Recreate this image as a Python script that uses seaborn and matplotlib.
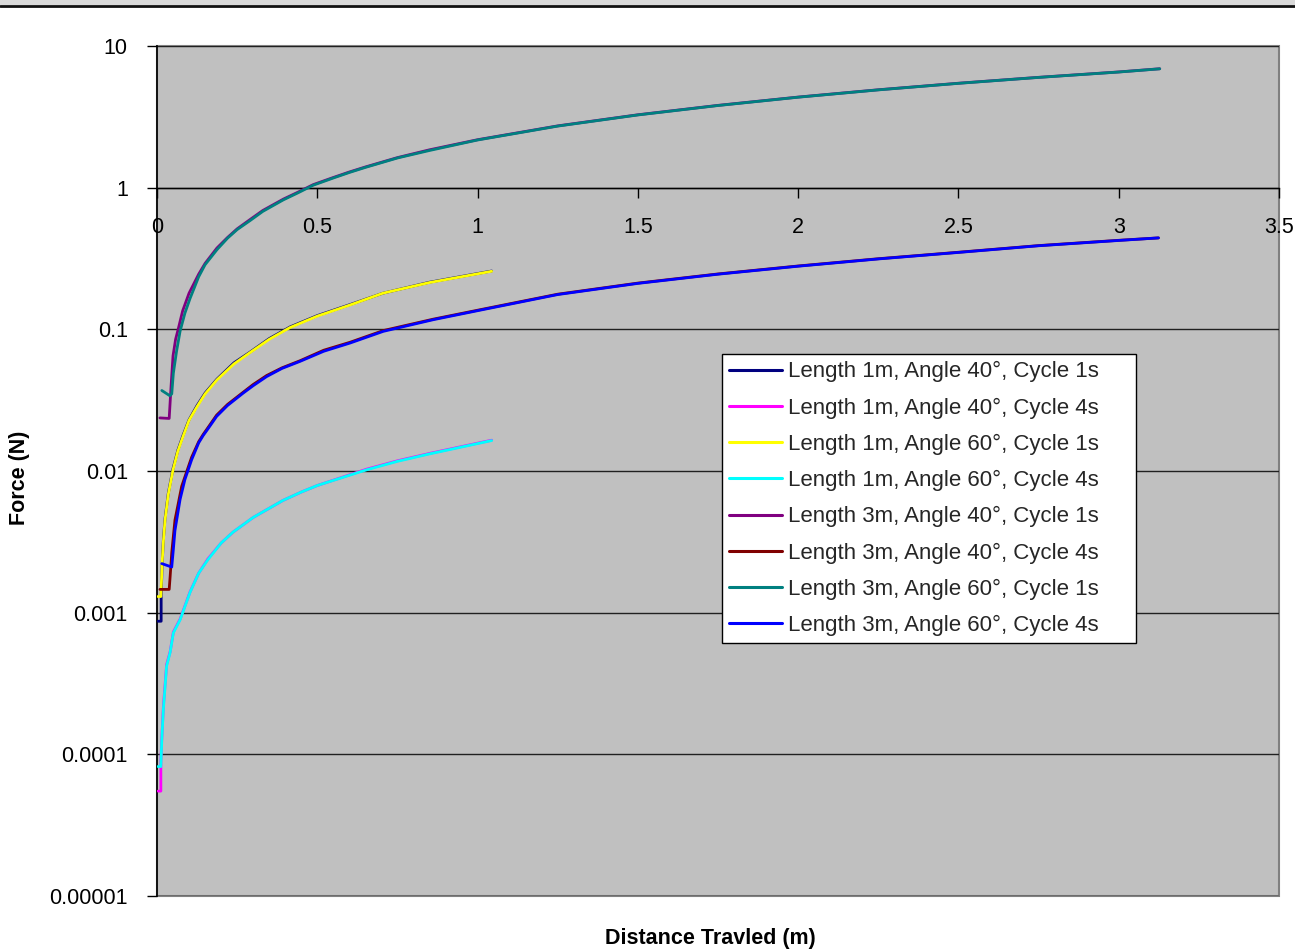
import matplotlib
matplotlib.use("Agg")
import matplotlib.pyplot as plt
from matplotlib.lines import Line2D
from matplotlib.patches import Rectangle
from matplotlib.ticker import NullLocator
import seaborn as sns
import pandas as pd

# ---------------- data ----------------
labels = [
    "Length 1m, Angle 40°, Cycle 1s",
    "Length 1m, Angle 40°, Cycle 4s",
    "Length 1m, Angle 60°, Cycle 1s",
    "Length 1m, Angle 60°, Cycle 4s",
    "Length 3m, Angle 40°, Cycle 1s",
    "Length 3m, Angle 40°, Cycle 4s",
    "Length 3m, Angle 60°, Cycle 1s",
    "Length 3m, Angle 60°, Cycle 4s",
]
colors = ["#000080", "#FF00FF", "#FFFF00", "#00FFFF",
          "#800080", "#800000", "#008080", "#0000FF"]

x_1m_40_1s = [0.003, 0.013, 0.013, 0.016, 0.02, 0.025, 0.035, 0.05, 0.065, 0.081, 0.1, 0.125, 0.15, 0.187, 0.24, 0.29, 0.35, 0.415, 0.5, 0.6, 0.705, 0.85, 1.044]
y_1m_40_1s = [0.00087, 0.00087, 0.0013, 0.0022, 0.0033, 0.0046, 0.0069, 0.0104, 0.0140, 0.0178, 0.0230, 0.029, 0.0355, 0.0445, 0.058, 0.069, 0.086, 0.104, 0.125, 0.149, 0.18, 0.215, 0.258]

x_1m_40_4s = [0.003, 0.012, 0.012, 0.015, 0.02, 0.03, 0.041, 0.051, 0.072, 0.103, 0.13, 0.159, 0.2, 0.237, 0.3, 0.393, 0.45, 0.5, 0.654, 0.75, 0.85, 1.044]
y_1m_40_4s = [0.000055, 0.000055, 0.00009, 0.00013, 0.00022, 0.00043, 0.00053, 0.00073, 0.0009, 0.0014, 0.0019, 0.0024, 0.0031, 0.0037, 0.0047, 0.0062, 0.0071, 0.0079, 0.0103, 0.0118, 0.0133, 0.0165]

x_1m_60_1s = [0.003, 0.012, 0.0166, 0.02, 0.025, 0.035, 0.05, 0.065, 0.081, 0.1, 0.125, 0.15, 0.187, 0.24, 0.29, 0.35, 0.415, 0.5, 0.6, 0.705, 0.85, 1.044]
y_1m_60_1s = [0.0013, 0.0013, 0.00237, 0.0032, 0.0045, 0.0068, 0.0102, 0.0138, 0.0175, 0.0228, 0.0285, 0.035, 0.044, 0.057, 0.0685, 0.085, 0.103, 0.124, 0.148, 0.18, 0.214, 0.257]

x_1m_60_4s = [0.003, 0.012, 0.015, 0.02, 0.03, 0.041, 0.051, 0.072, 0.103, 0.13, 0.159, 0.2, 0.237, 0.3, 0.393, 0.45, 0.5, 0.654, 0.75, 0.85, 1.044]
y_1m_60_4s = [0.000082, 0.000082, 0.000127, 0.00021, 0.00042, 0.000524, 0.00072, 0.00089, 0.00139, 0.0019, 0.00237, 0.0031, 0.0037, 0.0047, 0.0062, 0.0071, 0.0079, 0.0102, 0.0117, 0.0132, 0.0164]

x_3m_40_1s = [0.009, 0.038, 0.044, 0.05, 0.058, 0.066, 0.08, 0.1, 0.13, 0.15, 0.187, 0.22, 0.25, 0.29, 0.33, 0.394, 0.44, 0.487, 0.55, 0.6, 0.65, 0.75, 0.85, 1.0, 1.25, 1.5, 1.75, 2.0, 2.25, 2.5, 2.75, 3.0, 3.128]
y_3m_40_1s = [0.0237, 0.0235, 0.04, 0.065, 0.085, 0.1, 0.135, 0.18, 0.245, 0.292, 0.375, 0.445, 0.512, 0.595, 0.69, 0.83, 0.93, 1.05, 1.18, 1.29, 1.40, 1.63, 1.85, 2.18, 2.73, 3.27, 3.81, 4.36, 4.91, 5.46, 6.01, 6.56, 6.91]

x_3m_40_4s = [0.009, 0.038, 0.041, 0.046, 0.056, 0.077, 0.108, 0.13, 0.144, 0.16, 0.186, 0.22, 0.269, 0.3, 0.342, 0.39, 0.446, 0.52, 0.602, 0.706, 0.862, 1.018, 1.25, 1.5, 1.75, 2.0, 2.25, 2.5, 2.75, 3.0, 3.124]
y_3m_40_4s = [0.00146, 0.00146, 0.0018, 0.00265, 0.0045, 0.0078, 0.0125, 0.0161, 0.0181, 0.0204, 0.0248, 0.0295, 0.036, 0.0408, 0.0472, 0.0535, 0.060, 0.0712, 0.081, 0.098, 0.118, 0.139, 0.177, 0.212, 0.246, 0.28, 0.315, 0.35, 0.39, 0.425, 0.442]

x_3m_60_1s = [0.015, 0.04, 0.046, 0.051, 0.061, 0.072, 0.087, 0.103, 0.13, 0.15, 0.187, 0.22, 0.25, 0.29, 0.33, 0.394, 0.44, 0.487, 0.55, 0.6, 0.65, 0.75, 0.85, 1.0, 1.25, 1.5, 1.75, 2.0, 2.25, 2.5, 2.75, 3.0, 3.128]
y_3m_60_1s = [0.037, 0.034, 0.035, 0.049, 0.07, 0.097, 0.13, 0.165, 0.235, 0.286, 0.365, 0.44, 0.506, 0.585, 0.68, 0.82, 0.92, 1.04, 1.17, 1.28, 1.39, 1.62, 1.83, 2.17, 2.72, 3.26, 3.8, 4.35, 4.9, 5.45, 6.0, 6.55, 6.9]

x_3m_60_4s = [0.015, 0.046, 0.051, 0.056, 0.072, 0.087, 0.108, 0.13, 0.144, 0.16, 0.186, 0.22, 0.269, 0.3, 0.342, 0.39, 0.446, 0.52, 0.602, 0.706, 0.862, 1.018, 1.25, 1.5, 1.75, 2.0, 2.25, 2.5, 2.75, 3.0, 3.124]
y_3m_60_4s = [0.00222, 0.0021, 0.0028, 0.0038, 0.0063, 0.0087, 0.012, 0.0158, 0.0178, 0.0200, 0.0243, 0.0290, 0.0355, 0.0400, 0.0464, 0.053, 0.0594, 0.070, 0.080, 0.0968, 0.117, 0.138, 0.176, 0.211, 0.245, 0.279, 0.314, 0.349, 0.389, 0.424, 0.442]

series_x = [x_1m_40_1s, x_1m_40_4s, x_1m_60_1s, x_1m_60_4s,
            x_3m_40_1s, x_3m_40_4s, x_3m_60_1s, x_3m_60_4s]
series_y = [y_1m_40_1s, y_1m_40_4s, y_1m_60_1s, y_1m_60_4s,
            y_3m_40_1s, y_3m_40_4s, y_3m_60_1s, y_3m_60_4s]

xticks = [0, 0.5, 1, 1.5, 2, 2.5, 3, 3.5]
xtick_labels = ["0", "0.5", "1", "1.5", "2", "2.5", "3", "3.5"]
yticks = [1e-5, 1e-4, 1e-3, 1e-2, 1e-1, 1, 10]
ytick_labels = ["0.00001", "0.0001", "0.001", "0.01", "0.1", "1", "10"]

# ---------------- styling ----------------
sns.set_theme(style="white")
plt.rcParams["font.family"] = ["Liberation Sans", "DejaVu Sans"]

W, H = 1295, 949
fig = plt.figure(figsize=(W / 100, H / 100), dpi=100)
fig.patch.set_facecolor("white")
ax = fig.add_axes([157 / W, 1 - 896 / H, (1279 - 157) / W, (896 - 46) / H])
ax.set_facecolor("#C0C0C0")

ax.set_yscale("log")
ax.set_xlim(0, 3.5)
ax.set_ylim(1e-5, 10)

# gridlines
for t in yticks:
    ax.axhline(t, color="#202020", lw=1.0, zorder=1)

for xs, ys, lab, col in zip(series_x, series_y, labels, colors):
    df = pd.DataFrame({"x": xs, "y": ys})
    sns.lineplot(data=df, x="x", y="y", ax=ax, color=col, lw=2.0,
                 estimator=None, sort=False, label=lab, zorder=3)

# axes / spines
ax.spines["bottom"].set_position(("data", 1))
ax.spines["bottom"].set_color("black")
ax.spines["bottom"].set_linewidth(1.0)
ax.spines["left"].set_color("black")
ax.spines["left"].set_linewidth(1.2)
for s in ["top", "right"]:
    ax.spines[s].set_visible(False)
# plot-area border (drawn beneath tick labels)
ax.add_patch(Rectangle((0, 0), 1, 1, transform=ax.transAxes, fill=False,
                       edgecolor="#808080", lw=1.5, zorder=0.5, clip_on=False))

ax.set_xticks(xticks, labels=xtick_labels)
ax.set_yticks(yticks, labels=ytick_labels)
ax.yaxis.set_minor_locator(NullLocator())
ax.xaxis.set_minor_locator(NullLocator())
ax.tick_params(axis="x", direction="out", length=7, width=1, color="black",
               pad=14, labelsize=15.5, labelcolor="black", bottom=True)
ax.tick_params(axis="y", direction="out", length=7, width=1, color="black",
               pad=14, labelsize=15.5, labelcolor="black", left=True)

ax.set_xlabel("Distance Travled (m)", fontsize=15.5, fontweight="bold", color="black")
ax.set_ylabel("Force (N)", fontsize=15.5, fontweight="bold", color="black")
ax.xaxis.set_label_coords((710 - 157) / 1122, -0.038)
ax.yaxis.set_label_coords((30 - 157) / 1122, (896 - 478) / 850)

lx0 = (722 - 157) / 1122
lw_ = (1136 - 722) / 1122
ltop = (896 - 354) / 850
leg = ax.legend(loc="upper left", bbox_to_anchor=(lx0, ltop - 0.34, lw_, 0.34),
                mode="expand",
                borderaxespad=0, frameon=True, fancybox=False, fontsize=16,
                handlelength=2.35, handletextpad=0.3, labelspacing=0.68,
                borderpad=0.33, edgecolor="black", facecolor="white", framealpha=1)
leg.get_frame().set_linewidth(1.0)
for h in leg.get_lines():
    h.set_linewidth(2.2)

# cut-off header strip at the very top
fig.add_artist(Rectangle((0, 1 - 5 / H), 1, 5 / H, transform=fig.transFigure,
                         facecolor="#d9d9d9", edgecolor="none"))
fig.add_artist(Line2D([0, 1], [1 - 6 / H, 1 - 6 / H], transform=fig.transFigure,
                      color="#111111", lw=2))

fig.savefig("out.png", dpi=100, facecolor="white")
